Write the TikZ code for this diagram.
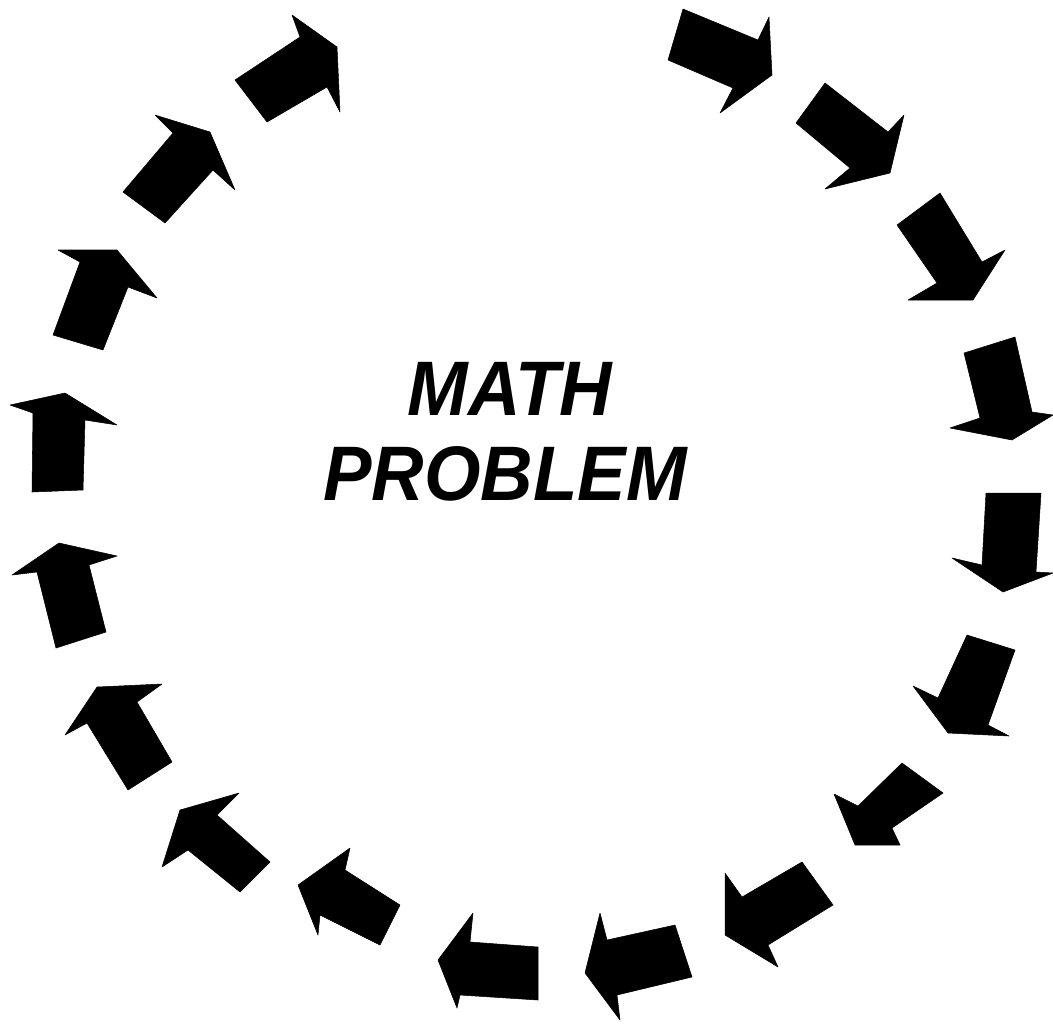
\documentclass[tikz,border=0pt]{standalone}
\usepackage{fontspec}
\newfontfamily\hvfont[FakeStretch=0.94]{Liberation Sans}
\begin{document}
\begin{tikzpicture}[x=0.02cm,y=-0.02cm,
  arr/.style={fill=black,draw=black,line width=0.3pt,line join=round},
  title/.style={anchor=base,font=\hvfont\bfseries\itshape\fontsize{44}{48}\selectfont}]
\path[use as bounding box,fill=white] (0,0) rectangle (1053,1025);
% clockwise ring of block arrows
\fill[arr] (683,9) -- (758,40) -- (769,17) -- (772,75) -- (720,113) -- (733,88) -- (668,60) -- cycle;
\fill[arr] (825,83) -- (888,132) -- (904,115) -- (890,173) -- (825,189) -- (850,168) -- (796,123) -- cycle;
\fill[arr] (940,193) -- (982,262) -- (1005,250) -- (973,300) -- (908,300) -- (937,283) -- (897,225) -- cycle;
\fill[arr] (964,353) -- (1015,337) -- (1032,412) -- (1053,415) -- (1012,440) -- (950,428) -- (980,418) -- cycle;
\fill[arr] (986,493) -- (1041,493) -- (1036,572) -- (1053,573) -- (1003,592) -- (952,558) -- (982,565) -- cycle;
\fill[arr] (967,635) -- (1015,650) -- (988,725) -- (1009,736) -- (948,733) -- (913,686) -- (938,698) -- cycle;
\fill[arr] (902,763) -- (943,793) -- (892,828) -- (900,845) -- (855,845) -- (834,794) -- (858,806) -- cycle;
\fill[arr] (802,862) -- (833,905) -- (768,945) -- (778,967) -- (725,935) -- (725,873) -- (742,897) -- cycle;
\fill[arr] (675,925) -- (692,977) -- (617,995) -- (620,1020) -- (585,973) -- (600,913) -- (607,940) -- cycle;
\fill[arr] (538,947) -- (538,1000) -- (460,995) -- (457,1008) -- (438,960) -- (473,913) -- (470,942) -- cycle;
\fill[arr] (400,905) -- (380,945) -- (320,915) -- (318,935) -- (298,885) -- (350,848) -- (345,870) -- cycle;
\fill[arr] (180,810) -- (239,793) -- (217,815) -- (270,862) -- (240,892) -- (188,850) -- (162,867) -- cycle;
\fill[arr] (97,687) -- (162,684) -- (137,702) -- (172,762) -- (128,790) -- (87,723) -- (65,735) -- cycle;
\fill[arr] (59,543) -- (117,556) -- (89,565) -- (106,632) -- (56,648) -- (37,572) -- (12,575) -- cycle;
\fill[arr] (65,393) -- (117,425) -- (85,420) -- (83,490) -- (32,492) -- (33,413) -- (10,405) -- cycle;
\fill[arr] (58,250) -- (117,250) -- (157,298) -- (128,287) -- (103,350) -- (53,335) -- (80,262) -- cycle;
\fill[arr] (155,115) -- (210,132) -- (235,190) -- (213,170) -- (165,223) -- (123,192) -- (173,133) -- cycle;
\fill[arr] (235,80) -- (300,37) -- (292,15) -- (337,47) -- (340,112) -- (327,87) -- (267,122) -- cycle;
% title
\node[title] (t1) at (510,415) {MATH};
\node[title] (t2) at (505,500) {PROBLEM};
\end{tikzpicture}
\end{document}
